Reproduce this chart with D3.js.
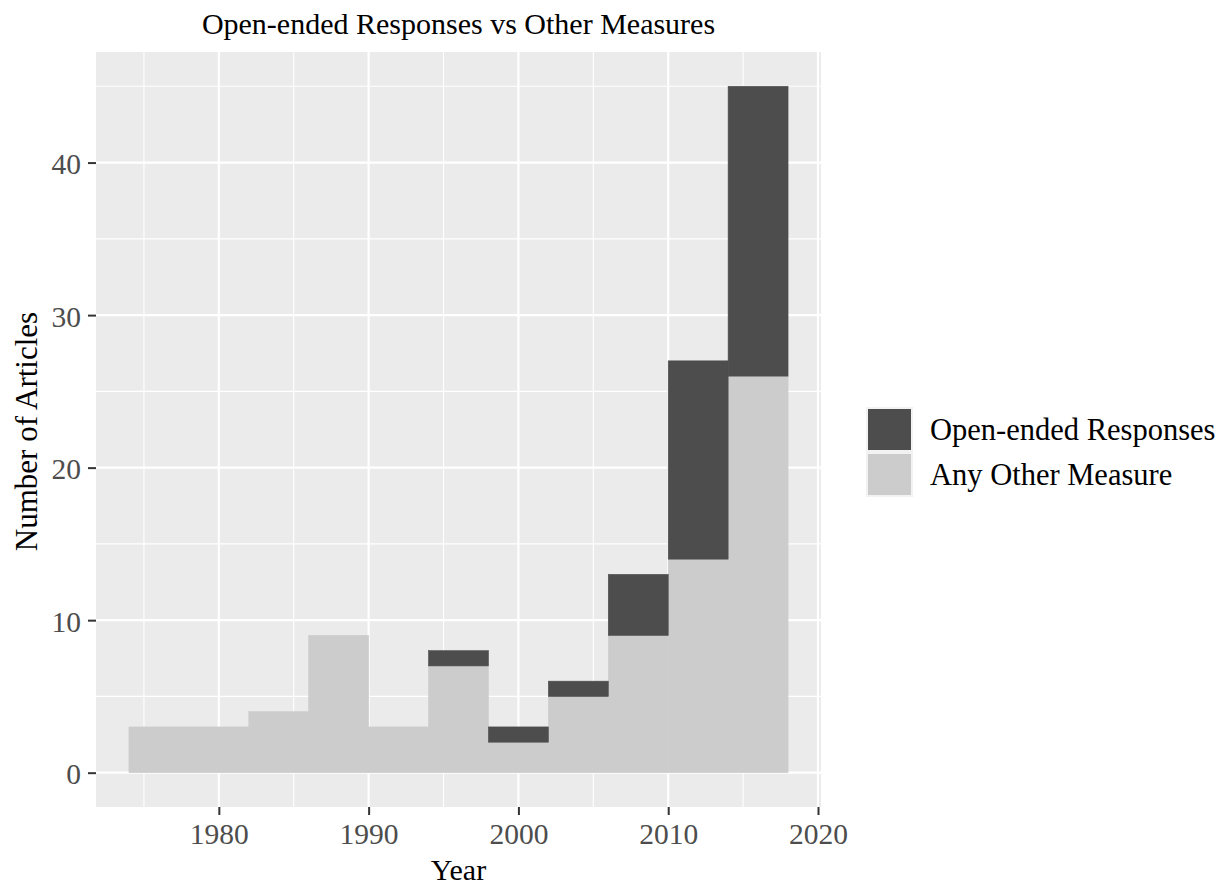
<!DOCTYPE html>
<html>
<head>
<meta charset="utf-8">
<script src="https://cdn.jsdelivr.net/npm/d3@7"></script>
<style>
  body { margin: 0; background: #fff; }
  text { font-family: "Liberation Serif", "Times New Roman", serif; }
</style>
</head>
<body>
<svg id="chart" width="1221" height="888"></svg>
<script>
// ---- data ----
const binStarts = [1974, 1978, 1982, 1986, 1990, 1994, 1998, 2002, 2006, 2010, 2014];
const binWidth = 4;
const otherMeasure = [3, 3, 4, 9, 3, 7, 2, 5, 9, 14, 26];
const openEnded   = [0, 0, 0, 0, 0, 1, 1, 1, 4, 13, 19];
const seriesNames = ["Open-ended Responses", "Any Other Measure"];
const seriesColors = ["#4d4d4d", "#cccccc"];
const xTicks = [1980, 1990, 2000, 2010, 2020];
const xMinor = [1975, 1985, 1995, 2005, 2015];
const yTicks = [0, 10, 20, 30, 40];
const yMinor = [5, 15, 25, 35, 45];
const titleText = "Open-ended Responses vs Other Measures";
const xTitle = "Year";
const yTitle = "Number of Articles";

// ---- layout ----
const svg = d3.select("#chart");
const P = { left: 96, right: 821, top: 52, bottom: 807 };

const xMin = binStarts[0], xMax = binStarts[binStarts.length - 1] + binWidth;
const xPad = (xMax - xMin) * 0.05;
const x = d3.scaleLinear().domain([xMin - xPad, xMax + xPad]).range([P.left, P.right]);

const totals = otherMeasure.map((v, i) => v + openEnded[i]);
const yMaxV = d3.max(totals);
const yPad = yMaxV * 0.05;
const y = d3.scaleLinear().domain([-yPad, yMaxV + yPad]).range([P.bottom, P.top]);

// panel background
svg.append("rect").attr("x", P.left).attr("y", P.top)
  .attr("width", P.right - P.left).attr("height", P.bottom - P.top).attr("fill", "#ebebeb");

const grid = svg.append("g");
// minor grid
grid.selectAll(".ymin").data(yMinor).join("line")
  .attr("x1", P.left).attr("x2", P.right).attr("y1", d => y(d)).attr("y2", d => y(d))
  .attr("stroke", "#fff").attr("stroke-width", 1.1);
grid.selectAll(".xmin").data(xMinor).join("line")
  .attr("y1", P.top).attr("y2", P.bottom).attr("x1", d => x(d)).attr("x2", d => x(d))
  .attr("stroke", "#fff").attr("stroke-width", 1.1);
// major grid
grid.selectAll(".ymaj").data(yTicks).join("line")
  .attr("x1", P.left).attr("x2", P.right).attr("y1", d => y(d)).attr("y2", d => y(d))
  .attr("stroke", "#fff").attr("stroke-width", 2.2);
grid.selectAll(".xmaj").data(xTicks).join("line")
  .attr("y1", P.top).attr("y2", P.bottom).attr("x1", d => x(d)).attr("x2", d => x(d))
  .attr("stroke", "#fff").attr("stroke-width", 2.2);

// stacked bars
const rows = binStarts.map((s, i) => ({ start: s, other: otherMeasure[i], open: openEnded[i] }));
const stack = d3.stack().keys(["other", "open"])(rows);
const colorFor = { other: seriesColors[1], open: seriesColors[0] };
svg.append("g").selectAll("g").data(stack).join("g")
  .attr("fill", d => colorFor[d.key])
  .attr("stroke", d => colorFor[d.key])
  .attr("stroke-width", 0.6)
  .selectAll("rect").data(d => d.filter(s => s[1] > s[0])).join("rect")
  .attr("x", d => x(d.data.start))
  .attr("width", d => x(d.data.start + binWidth) - x(d.data.start))
  .attr("y", d => y(d[1]))
  .attr("height", d => y(d[0]) - y(d[1]));

// axes
const xAxis = d3.axisBottom(x).tickValues(xTicks).tickFormat(d3.format("d")).tickSize(8).tickPadding(6);
const gx = svg.append("g").attr("transform", `translate(0,${P.bottom})`).call(xAxis);
gx.select(".domain").remove();
gx.selectAll("line").attr("stroke", "#333").attr("stroke-width", 2);
gx.selectAll("text").attr("font-size", 29.5).attr("fill", "#4d4d4d")
  .attr("font-family", "Liberation Serif, serif").attr("dy", "0.78em");

const yAxis = d3.axisLeft(y).tickValues(yTicks).tickSize(8).tickPadding(7);
const gy = svg.append("g").attr("transform", `translate(${P.left},0)`).call(yAxis);
gy.select(".domain").remove();
gy.selectAll("line").attr("stroke", "#333").attr("stroke-width", 2);
gy.selectAll("text").attr("font-size", 29.5).attr("fill", "#4d4d4d")
  .attr("font-family", "Liberation Serif, serif").attr("dy", "0.38em");

// titles
svg.append("text").attr("x", (P.left + P.right) / 2).attr("y", 34)
  .attr("text-anchor", "middle").attr("font-size", 30).attr("fill", "#000").text(titleText);
svg.append("text").attr("x", (P.left + P.right) / 2).attr("y", 880)
  .attr("text-anchor", "middle").attr("font-size", 30).attr("fill", "#000").text(xTitle);
svg.append("text").attr("transform", `translate(37,${(P.top + P.bottom) / 2 + 2}) rotate(-90)`)
  .attr("text-anchor", "middle").attr("font-size", 31).attr("fill", "#000").text(yTitle);

// legend
const lg = svg.append("g").attr("transform", "translate(866,407)");
const keyH = 45;
seriesNames.forEach((name, i) => {
  lg.append("rect").attr("x", 0).attr("y", i * keyH).attr("width", 47).attr("height", keyH)
    .attr("fill", "#f2f2f2");
  lg.append("rect").attr("x", 2).attr("y", i * keyH + 2).attr("width", 43).attr("height", keyH - 4)
    .attr("fill", seriesColors[i]);
  lg.append("text").attr("x", 64).attr("y", i * keyH + keyH / 2).attr("dy", "0.36em")
    .attr("font-size", 30.5).attr("fill", "#000").text(name);
});
</script>
</body>
</html>
